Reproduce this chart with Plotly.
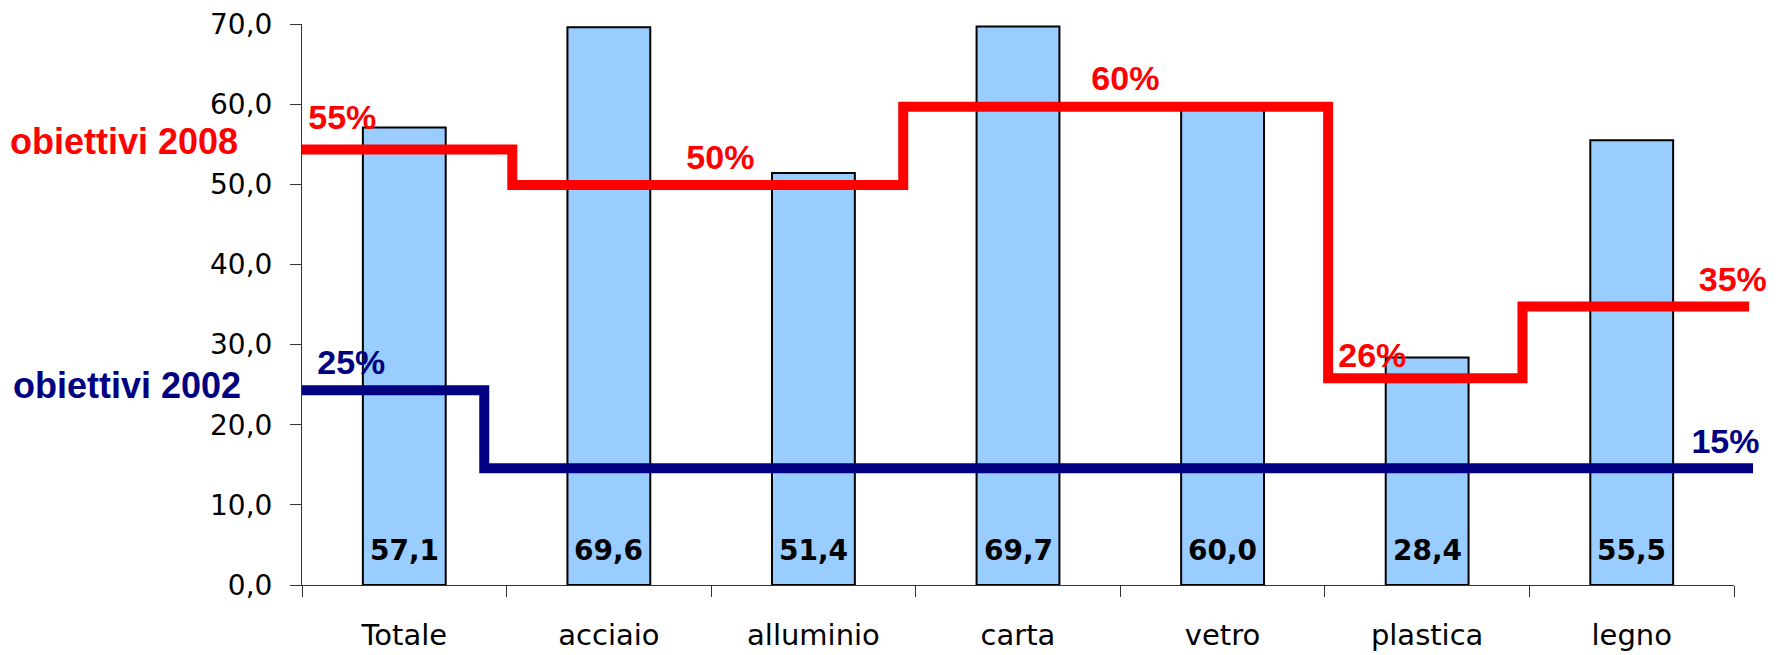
import plotly.graph_objects as go

# ---- data ----
categories = ["Totale", "acciaio", "alluminio", "carta", "vetro", "plastica", "legno"]
values = [57.1, 69.6, 51.4, 69.7, 60.0, 28.4, 55.5]
value_labels = ["57,1", "69,6", "51,4", "69,7", "60,0", "28,4", "55,5"]

# step lines (category-index positions of the steps, target levels)
target2008_x = [-0.5, 0.528, 2.439, 4.516, 5.466, 6.574]
target2008_y = [54.35, 49.9, 59.68, 25.8, 34.74, 34.74]
target2002_x = [-0.5, 0.391, 6.593]
target2002_y = [24.3, 14.57, 14.57]

pct2008_text = ["55%", "50%", "60%", "26%", "35%"]
pct2008_x = [-0.303, 1.545, 3.525, 4.732, 6.494]
pct2008_y = [58.0, 53.0, 62.8, 28.3, 37.7]
pct2002_text = ["25%", "15%"]
pct2002_x = [-0.259, 6.458]
pct2002_y = [27.4, 17.5]

y_ticks = [0, 10, 20, 30, 40, 50, 60, 70]

RED = "#FF0000"
NAVY = "#000080"
W, H = 1779, 655
ML, MR, MT, MB = 302, 15, 24, 70
cat_px = (1734 - ML) / 7.0
plot_w = W - ML - MR
x_idx = list(range(len(categories)))

fig = go.Figure()

fig.add_trace(go.Bar(
    x=x_idx, y=values, width=0.405,
    marker=dict(color="#99CCFF", line=dict(color="black", width=2)),
    xaxis="x", yaxis="y", hoverinfo="skip", showlegend=False,
))

fig.add_trace(go.Scatter(
    x=target2002_x, y=target2002_y, mode="lines", line_shape="hv",
    line=dict(color=NAVY, width=10), xaxis="x2", yaxis="y",
    showlegend=False, hoverinfo="skip",
))
fig.add_trace(go.Scatter(
    x=target2008_x, y=target2008_y, mode="lines", line_shape="hv",
    line=dict(color=RED, width=10), xaxis="x2", yaxis="y",
    showlegend=False, hoverinfo="skip",
))
fig.add_trace(go.Scatter(
    x=pct2008_x, y=pct2008_y, mode="text", text=["<b>" + t + "</b>" for t in pct2008_text],
    textposition="middle center", cliponaxis=False,
    textfont=dict(family="Liberation Sans, Arial", size=34, color=RED),
    xaxis="x2", yaxis="y", showlegend=False, hoverinfo="skip",
))
fig.add_trace(go.Scatter(
    x=pct2002_x, y=pct2002_y, mode="text", text=["<b>" + t + "</b>" for t in pct2002_text],
    textposition="middle center", cliponaxis=False,
    textfont=dict(family="Liberation Sans, Arial", size=34, color=NAVY),
    xaxis="x2", yaxis="y", showlegend=False, hoverinfo="skip",
))

annotations = []
for i, lab in enumerate(value_labels):
    annotations.append(dict(
        x=x_idx[i], y=0, xref="x", yref="y", text="<b>" + lab + "</b>",
        showarrow=False, xanchor="center", yanchor="middle", yshift=35,
        font=dict(family="DejaVu Sans", size=28, color="black"),
    ))
annotations.append(dict(
    x=(240 - ML) / plot_w, y=55.3, xref="paper", yref="y", text="<b>obiettivi 2008</b>",
    showarrow=False, xanchor="right", yanchor="middle",
    font=dict(family="Liberation Sans, Arial", size=36, color=RED),
))
annotations.append(dict(
    x=(243 - ML) / plot_w, y=24.9, xref="paper", yref="y", text="<b>obiettivi 2002</b>",
    showarrow=False, xanchor="right", yanchor="middle",
    font=dict(family="Liberation Sans, Arial", size=36, color=NAVY),
))

fig.update_layout(
    width=W, height=H,
    margin=dict(l=ML, r=MR, t=MT, b=MB, pad=0, autoexpand=False),
    paper_bgcolor="white", plot_bgcolor="rgba(0,0,0,0)",
    separators=",.",
    showlegend=False,
    annotations=annotations,
    xaxis=dict(
        domain=[0, (1734 - ML) / plot_w], range=[-0.5, 6.5],
        tickmode="array", tickvals=x_idx, ticktext=categories, ticks="",
        tickfont=dict(family="DejaVu Sans", size=29, color="black"),
        ticklabelstandoff=24, automargin=False,
        showline=True, linecolor="#333", linewidth=1,
        showgrid=False, zeroline=False, fixedrange=True,
        minor=dict(tickmode="array", tickvals=[i - 0.5 for i in range(8)],
                   ticks="outside", ticklen=11, tickwidth=1, tickcolor="#333",
                   showgrid=False),
    ),
    xaxis2=dict(
        domain=[0, 1], anchor="y", range=[-0.5, -0.5 + plot_w / cat_px],
        visible=False, showgrid=False, zeroline=False, fixedrange=True,
        automargin=False,
    ),
    yaxis=dict(
        range=[0, 70], tickmode="array", tickvals=y_ticks, tickformat=".1f",
        ticks="outside", ticklen=11, tickwidth=1, tickcolor="#333",
        tickfont=dict(family="DejaVu Sans", size=28, color="black"),
        ticklabelstandoff=12, automargin=False,
        showline=True, linecolor="#333", linewidth=1,
        showgrid=False, zeroline=False, fixedrange=True,
    ),
)

fig.write_html("out.html", config={"displayModeBar": False},
               post_script="document.body.style.margin='0';")
